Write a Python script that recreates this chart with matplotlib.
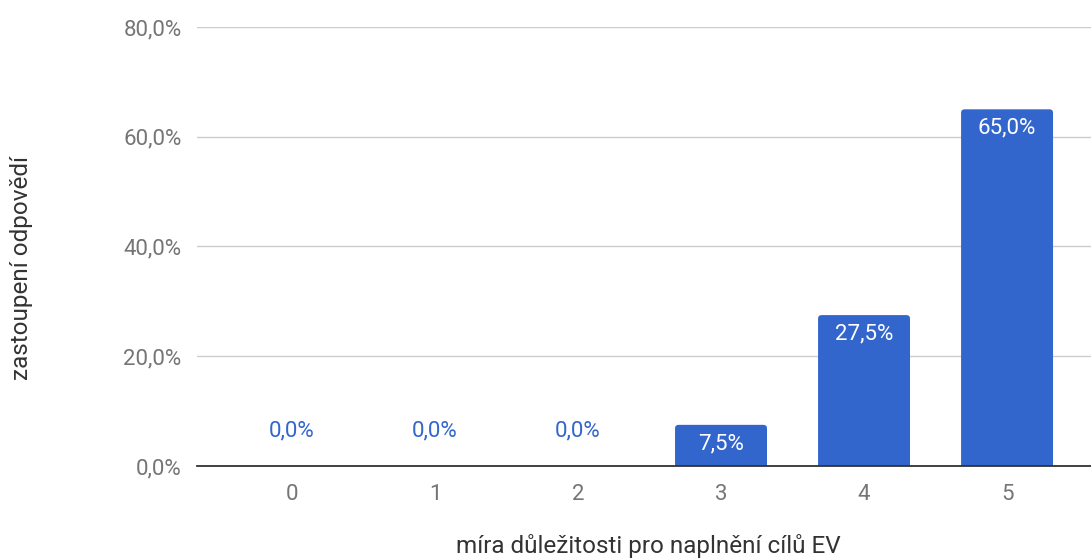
import matplotlib
matplotlib.use("Agg")
import matplotlib.pyplot as plt
from matplotlib.ticker import FuncFormatter
from matplotlib.patches import FancyBboxPatch

categories = ["0", "1", "2", "3", "4", "5"]
values = [0.0, 0.0, 0.0, 7.5, 27.5, 65.0]
y_ticks = [0, 20, 40, 60, 80]
x_title = "míra důležitosti pro naplnění cílů EV"
y_title = "zastoupení odpovědí"

plt.rcParams['font.family'] = ['Roboto', 'DejaVu Sans']
FS = 16
TFS = 17.5

fig = plt.figure(figsize=(10.91, 5.60), dpi=100)
ax = fig.add_axes([197/1091, 94/560, 1 - 197/1091, (466-27)/560])

bar_color = "#3366CC"
x = list(range(len(categories)))
bar_w = 0.643
ax.set_ylim(0, 80)
ax.set_xlim(-0.664, 5.587)

# rounded-top bars
rx = 0.025                     # corner radius in x data units (~3.5 px)
aspect = (80 / 439) / (6.251 / 894)   # y-units per px / x-units per px
for xi, v in zip(x, values):
    if v <= 0:
        continue
    ext = rx * aspect
    p = FancyBboxPatch((xi - bar_w / 2, -ext), bar_w, v + ext,
                       boxstyle=f"round,pad=0,rounding_size={rx}",
                       mutation_aspect=aspect, facecolor=bar_color,
                       edgecolor="none", zorder=3)
    ax.add_patch(p)

ax.set_yticks(y_ticks)
ax.yaxis.set_major_formatter(FuncFormatter(lambda v, p: f"{v:.1f}%".replace(".", ",")))
ax.set_xticks(x)
ax.set_xticklabels(categories)

for s in ["top", "right", "left"]:
    ax.spines[s].set_visible(False)
ax.spines["bottom"].set_color("#333333")
ax.spines["bottom"].set_linewidth(1.3)
ax.spines["bottom"].set_zorder(4)
ax.grid(axis="y", color="#cccccc", linewidth=1, zorder=0)
ax.tick_params(axis="both", length=0, labelsize=FS, colors="#757575")
ax.tick_params(axis="y", pad=11)
ax.tick_params(axis="x", pad=13)

for xi, v in zip(x, values):
    lbl = f"{v:.1f}%".replace(".", ",")
    if v > 0:
        ax.annotate(lbl, (xi, v), xytext=(0, -13.5), textcoords="offset points",
                    ha="center", va="center", color="white", fontsize=FS, zorder=5)
    else:
        ax.annotate(lbl, (xi, v), xytext=(0, 25.5), textcoords="offset points",
                    ha="center", va="center", color="#3366CC", fontsize=FS, zorder=5)

fig.text(648/1091, 1 - 546/560, x_title, ha="center", va="center", fontsize=TFS, color="#333333")
fig.text(22/1091, 1 - 268/560, y_title, ha="center", va="center", rotation=90, fontsize=TFS, color="#333333")

fig.savefig("out.png", dpi=100)
